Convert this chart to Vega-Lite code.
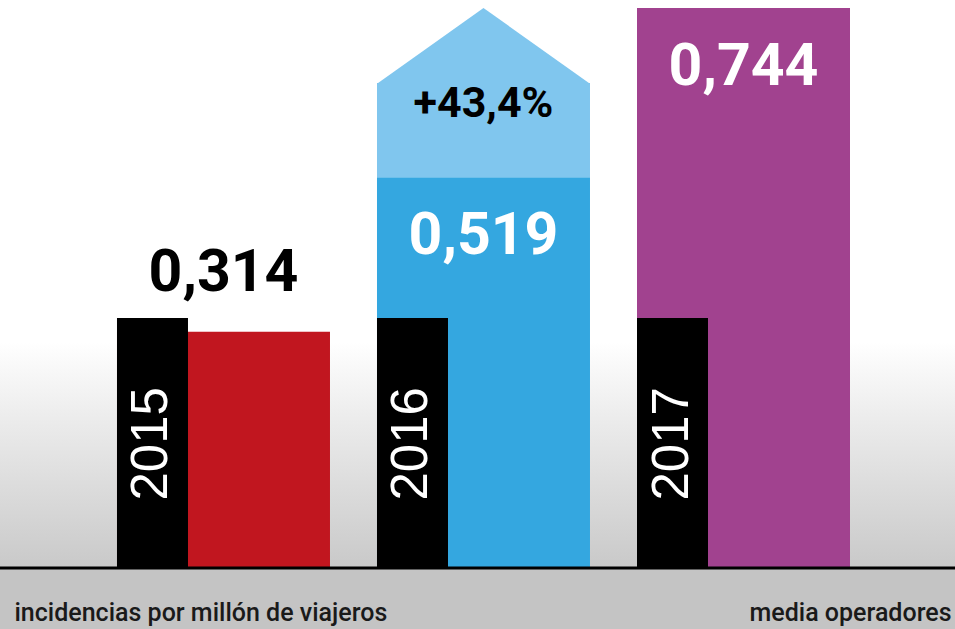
{
  "$schema": "https://vega.github.io/schema/vega-lite/v6.json",
  "width": 955,
  "height": 568,
  "padding": {"left": 0, "top": 0, "right": 0, "bottom": 61},
  "autosize": {"type": "none"},
  "background": "#c4c4c4",
  "datasets": {
    "anual": [
      {"año": "2015", "valor": 0.314},
      {"año": "2016", "valor": 0.519},
      {"año": "2017", "valor": 0.744}
    ],
    "cambio": [
      {"año": "2016", "desde": 0.519, "hasta": 0.744, "texto": "+43,4%"}
    ]
  },
  "data": {"name": "anual"},
  "layer": [
    {
      "data": {"values": [{}]},
      "mark": {"type": "rect", "color": {"gradient": "linear", "x1": 0, "y1": 0, "x2": 0, "y2": 1, "stops": [{"offset": 0, "color": "#ffffff"}, {"offset": 0.3, "color": "#eeeeee"}, {"offset": 1, "color": "#c9c9c9"}]}},
      "encoding": {
        "y": {"datum": 0.3, "type": "quantitative", "title": "media operadores", "scale": {"domain": [0, 0.7546], "nice": false}, "axis": {"orient": "right"}},
        "y2": {"datum": 0}
      }
    },
    {
      "mark": {"type": "bar"},
      "encoding": {
        "x": {"field": "año", "type": "nominal", "title": "incidencias por millón de viajeros", "scale": {"domain": ["2015", "2016", "2017"], "paddingInner": 0.1808, "paddingOuter": 0.4269, "align": 0.527}},
        "y": {"field": "valor", "type": "quantitative", "title": "media operadores", "scale": {"domain": [0, 0.7546], "nice": false}, "axis": {"orient": "right"}},
        "color": {"field": "año", "type": "nominal", "scale": {"domain": ["2015", "2016", "2017"], "range": ["#c1161f", "#34a7e0", "#a1428f"]}, "legend": null}
      }
    },
    {
      "data": {"name": "cambio"},
      "mark": {"type": "bar", "color": "#80c6ee"},
      "encoding": {
        "x": {"field": "año", "type": "nominal", "title": "incidencias por millón de viajeros", "scale": {"domain": ["2015", "2016", "2017"], "paddingInner": 0.1808, "paddingOuter": 0.4269, "align": 0.527}},
        "y": {"field": "desde", "type": "quantitative", "title": "media operadores", "scale": {"domain": [0, 0.7546], "nice": false}, "axis": {"orient": "right"}},
        "y2": {"datum": 0.6443}
      }
    },
    {
      "data": {"name": "cambio"},
      "mark": {"type": "point", "filled": true, "opacity": 1, "color": "#80c6ee", "shape": "M-1,0.36L0,-0.352L1,0.36Z", "size": 45369},
      "encoding": {
        "x": {"field": "año", "type": "nominal", "title": "incidencias por millón de viajeros", "scale": {"domain": ["2015", "2016", "2017"], "paddingInner": 0.1808, "paddingOuter": 0.4269, "align": 0.527}},
        "y": {"datum": 0.6942, "type": "quantitative", "title": "media operadores", "scale": {"domain": [0, 0.7546], "nice": false}, "axis": {"orient": "right"}}
      }
    },
    {
      "mark": {"type": "bar", "color": "#000000"},
      "encoding": {
        "x": {"field": "año", "type": "nominal", "title": "incidencias por millón de viajeros", "scale": {"domain": ["2015", "2016", "2017"], "paddingInner": 0.1808, "paddingOuter": 0.4269, "align": 0.527}},
        "xOffset": {"datum": "año", "scale": {"domain": ["año", "b", "c"], "paddingInner": 0, "paddingOuter": 0}},
        "y": {"datum": 0.332, "type": "quantitative", "title": "media operadores", "scale": {"domain": [0, 0.7546], "nice": false}, "axis": {"orient": "right"}},
        "y2": {"datum": 0}
      }
    },
    {
      "data": {"values": [{}]},
      "mark": {"type": "rule", "color": "#000000", "strokeWidth": 3},
      "encoding": {
        "y": {"datum": 0, "type": "quantitative", "title": "media operadores", "scale": {"domain": [0, 0.7546], "nice": false}, "axis": {"orient": "right"}}
      }
    },
    {
      "mark": {"type": "text", "angle": 270, "align": "center", "baseline": "middle", "color": "#ffffff", "font": "Liberation Sans, Arial, sans-serif", "fontSize": 51},
      "encoding": {
        "x": {"field": "año", "type": "nominal", "title": "incidencias por millón de viajeros", "scale": {"domain": ["2015", "2016", "2017"], "paddingInner": 0.1808, "paddingOuter": 0.4269, "align": 0.527}},
        "xOffset": {"datum": "año", "scale": {"domain": ["año", "b", "c"], "paddingInner": 0, "paddingOuter": 0}},
        "y": {"datum": 0.165, "type": "quantitative", "title": "media operadores", "scale": {"domain": [0, 0.7546], "nice": false}, "axis": {"orient": "right"}},
        "text": {"field": "año", "type": "nominal"}
      }
    },
    {
      "transform": [{"filter": "datum.valor > 0.4"}],
      "mark": {"type": "text", "align": "center", "baseline": "alphabetic", "dy": 77, "color": "#ffffff", "font": "Roboto, sans-serif", "fontWeight": "bold", "fontSize": 59},
      "encoding": {
        "x": {"field": "año", "type": "nominal", "title": "incidencias por millón de viajeros", "scale": {"domain": ["2015", "2016", "2017"], "paddingInner": 0.1808, "paddingOuter": 0.4269, "align": 0.527}},
        "y": {"field": "valor", "type": "quantitative", "title": "media operadores", "scale": {"domain": [0, 0.7546], "nice": false}, "axis": {"orient": "right"}},
        "text": {"field": "valor", "type": "quantitative", "format": ".3f"}
      }
    },
    {
      "transform": [{"filter": "datum.valor < 0.4"}],
      "mark": {"type": "text", "align": "center", "baseline": "alphabetic", "dy": -41, "color": "#000000", "font": "Roboto, sans-serif", "fontWeight": "bold", "fontSize": 59},
      "encoding": {
        "x": {"field": "año", "type": "nominal", "title": "incidencias por millón de viajeros", "scale": {"domain": ["2015", "2016", "2017"], "paddingInner": 0.1808, "paddingOuter": 0.4269, "align": 0.527}},
        "y": {"field": "valor", "type": "quantitative", "title": "media operadores", "scale": {"domain": [0, 0.7546], "nice": false}, "axis": {"orient": "right"}},
        "text": {"field": "valor", "type": "quantitative", "format": ".3f"}
      }
    },
    {
      "data": {"name": "cambio"},
      "mark": {"type": "text", "align": "center", "baseline": "alphabetic", "dy": -60, "color": "#000000", "font": "Roboto, sans-serif", "fontWeight": "bold", "fontSize": 43},
      "encoding": {
        "x": {"field": "año", "type": "nominal", "title": "incidencias por millón de viajeros", "scale": {"domain": ["2015", "2016", "2017"], "paddingInner": 0.1808, "paddingOuter": 0.4269, "align": 0.527}},
        "y": {"field": "desde", "type": "quantitative", "title": "media operadores", "scale": {"domain": [0, 0.7546], "nice": false}, "axis": {"orient": "right"}},
        "text": {"field": "texto", "type": "nominal"}
      }
    }
  ],
  "config": {
    "locale": {"number": {"decimal": ",", "thousands": ".", "grouping": [3], "currency": ["", " €"]}},
    "view": {"fill": "#ffffff", "stroke": null},
    "axisX": {"labels": false, "ticks": false, "domain": false, "grid": false, "titleX": 14, "titleY": 52, "titleAlign": "left", "titleAnchor": "start", "titleBaseline": "alphabetic", "titleFont": "Roboto, sans-serif", "titleFontSize": 25, "titleFontWeight": 500, "titleColor": "#1a1a1a"},
    "axisY": {"labels": false, "ticks": false, "domain": false, "grid": false, "titleAngle": 0, "titleX": -4, "titleY": 620, "titleAlign": "right", "titleBaseline": "alphabetic", "titleFont": "Roboto, sans-serif", "titleFontSize": 25, "titleFontWeight": 500, "titleColor": "#1a1a1a"}
  }
}
